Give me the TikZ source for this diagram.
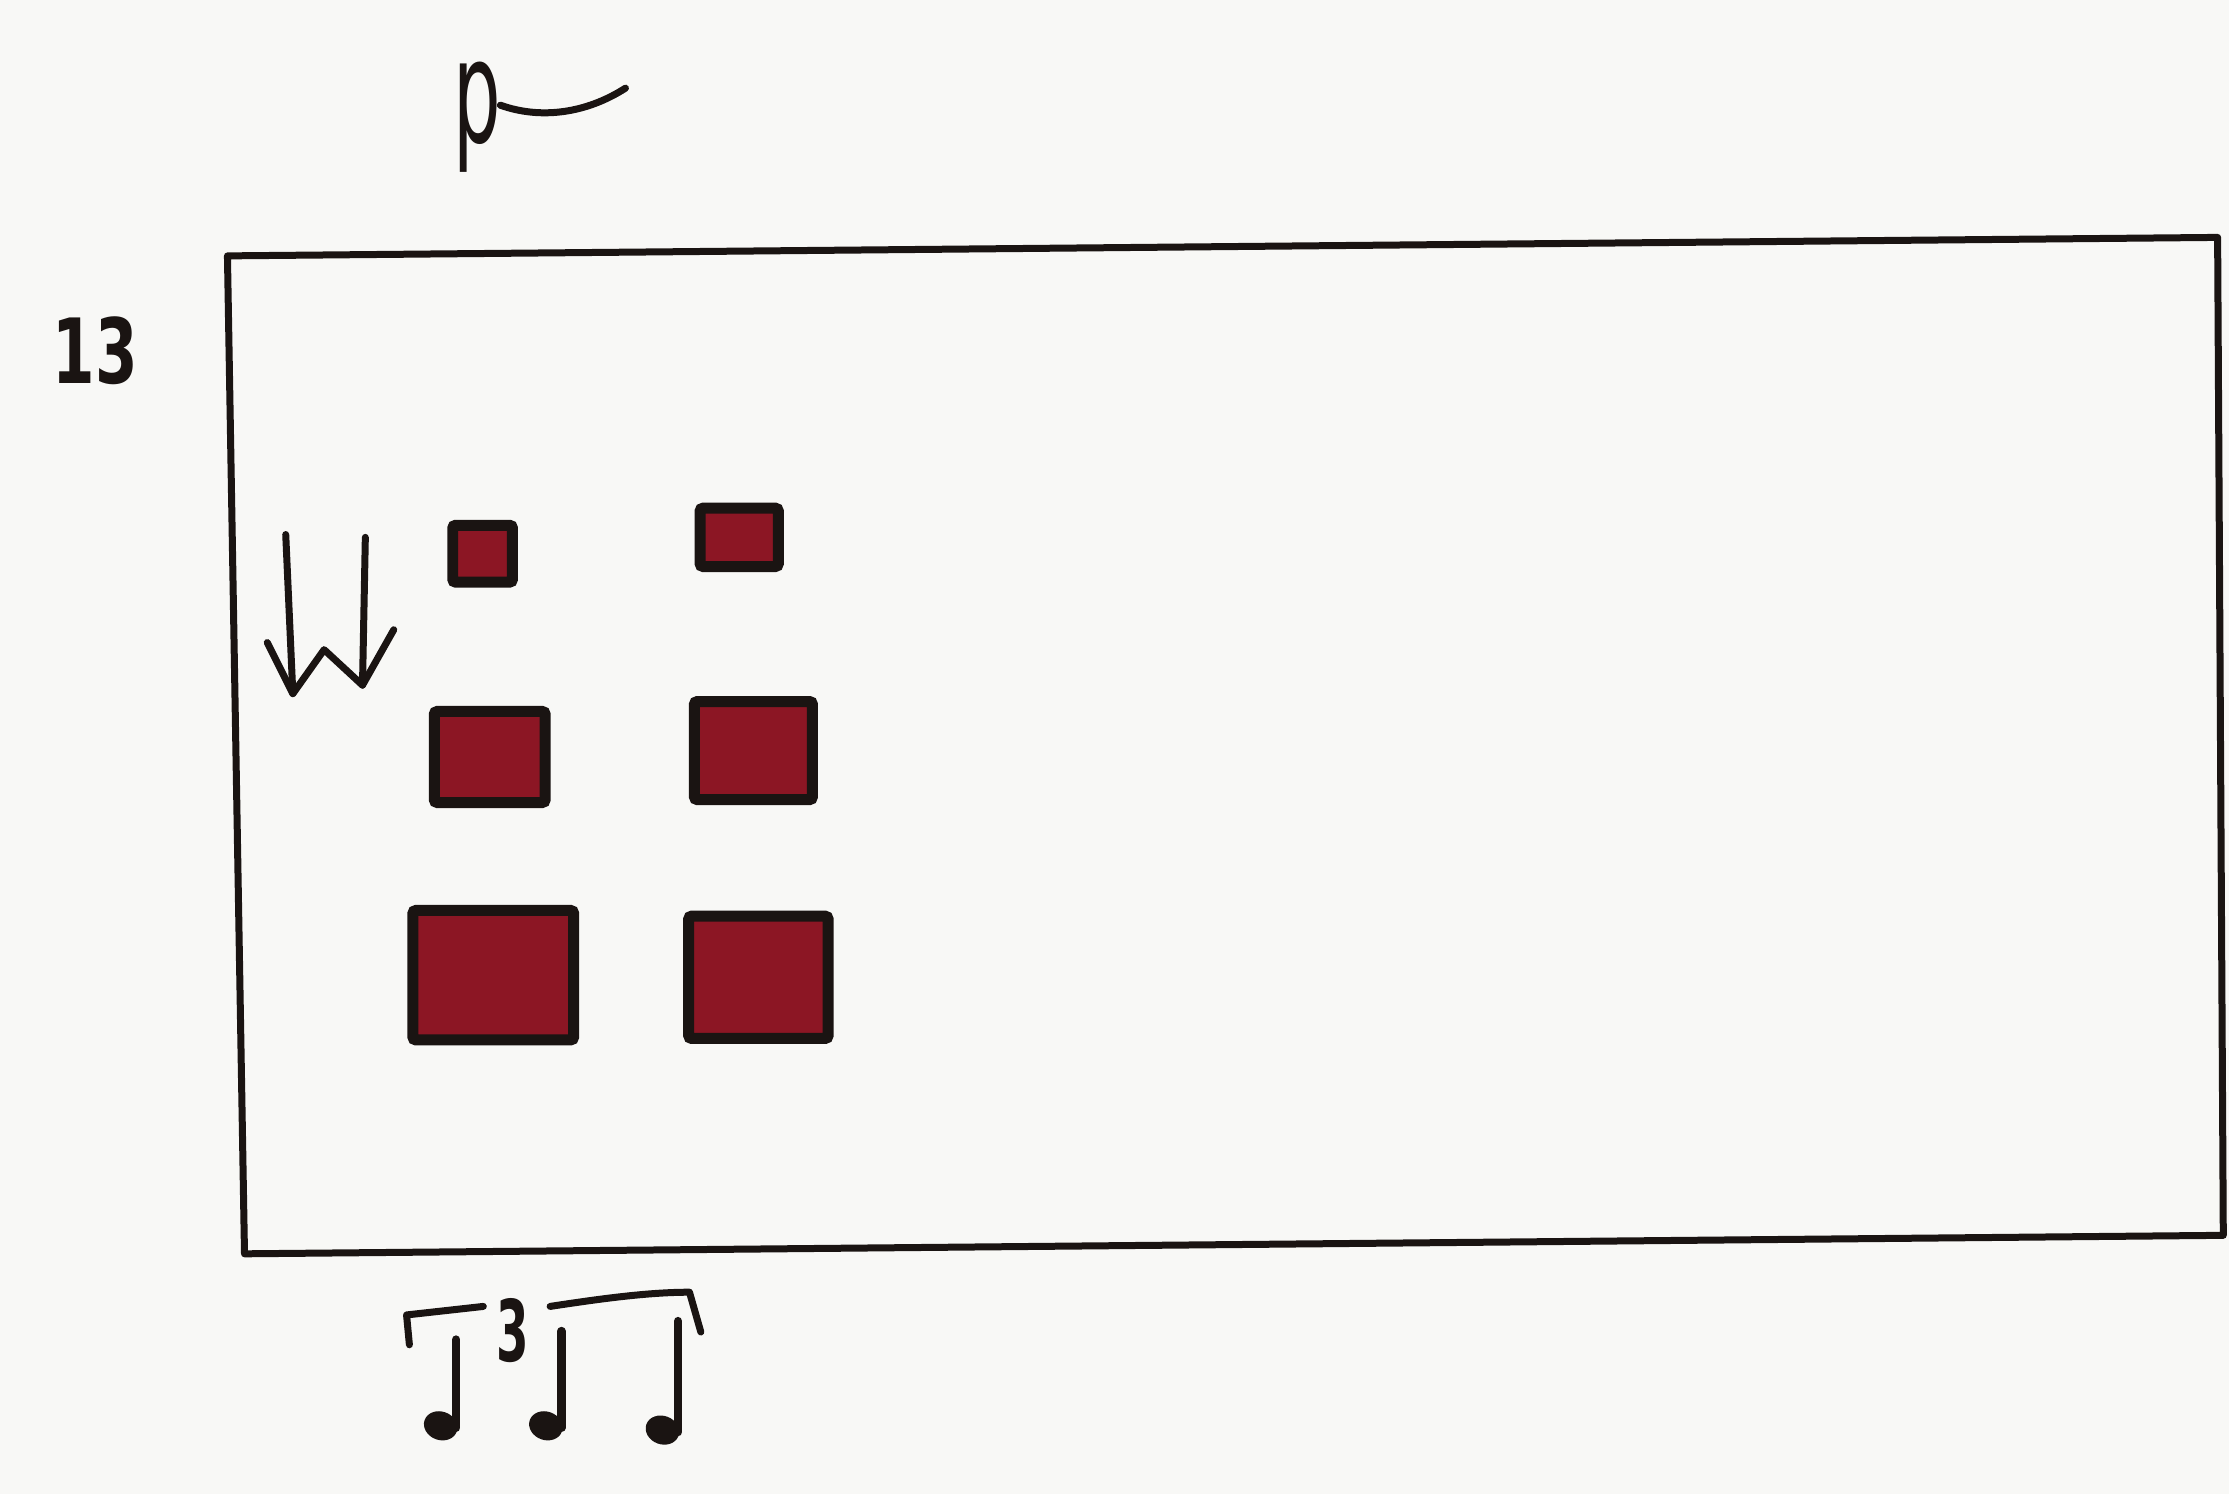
\documentclass[tikz,border=0pt]{standalone}
\usepackage{fontspec}
\setmainfont{DejaVu Sans}
\usetikzlibrary{shapes.geometric}
\definecolor{paper}{RGB}{248,248,246}
\definecolor{ink}{RGB}{26,20,18}
\definecolor{wine}{RGB}{140,22,36}
\tikzset{
  frameline/.style={draw=ink, line width=1.4pt, line join=round},
  pen/.style={draw=ink, line width=1.4pt, line cap=round, line join=round},
  redbox/.style={rectangle, draw=ink, fill=wine, line width=2.2pt, rounded corners=0.6pt, inner sep=0pt},
  notehead/.style={ellipse, fill=ink, minimum width=0.24cm, minimum height=0.2cm, inner sep=0pt, rotate=-20},
  stemline/.style={draw=ink, line width=1.7pt, line cap=round},
  hand/.style={text=ink, inner sep=0pt}
}
\begin{document}
\begin{tikzpicture}[x=0.01cm,y=-0.01cm]
\fill[paper] (0,0) rectangle (1568,1051);
\useasboundingbox (0,0) rectangle (1568,1051);

% frame
\draw[frameline] (160,180) -- (1560,167) -- (1564,869) -- (172,882) -- cycle;

% dynamic p with swash
\node[hand, anchor=base, font=\fontsize{25}{25}\selectfont, xscale=0.6, yscale=1.15] (pdyn) at (336,100) {p};
\draw[pen] (352,74) .. controls (380,84) and (412,80) .. (440,62);

% measure number
\node[hand, font=\bfseries\fontsize{18}{18}\selectfont, xscale=0.68] (num) at (67,247) {13};

% double downward arrow
\draw[pen] (201,376) -- (206,488);
\draw[pen] (257,378) -- (255,482);
\draw[pen] (188,452) -- (206,488) -- (228,457) -- (255,482) -- (277,443);

% boxes
\node[redbox, minimum width=0.42cm, minimum height=0.40cm] (b1) at (339.5,389.5) {};
\node[redbox, minimum width=0.55cm, minimum height=0.41cm] (b2) at (520,378) {};
\node[redbox, minimum width=0.78cm, minimum height=0.64cm] (b3) at (344.5,532.5) {};
\node[redbox, minimum width=0.83cm, minimum height=0.69cm] (b4) at (530,528) {};
\node[redbox, minimum width=1.13cm, minimum height=0.91cm] (b5) at (347,686) {};
\node[redbox, minimum width=0.98cm, minimum height=0.86cm] (b6) at (533.5,687.5) {};

% rhythm: triplet quarter notes
\node[notehead] (h1) at (310,1003) {};
\node[notehead] (h2) at (384,1003) {};
\node[notehead] (h3) at (466,1006) {};
\draw[stemline] (h1.east) ++(-1,-3) -- ++(0,-62);
\draw[stemline] (h2.east) ++(-1,-3) -- ++(0,-68);
\draw[stemline] (h3.east) ++(-1,-3) -- ++(0,-78);
\draw[pen] (288,946) -- (286,925) -- (340,919);
\draw[pen] (387,919) .. controls (420,914) and (455,909) .. (485,909) -- (493,937);
\node[hand, font=\bfseries\fontsize{17}{17}\selectfont, xscale=0.55] (trip) at (361,936) {3};
\end{tikzpicture}
\end{document}
